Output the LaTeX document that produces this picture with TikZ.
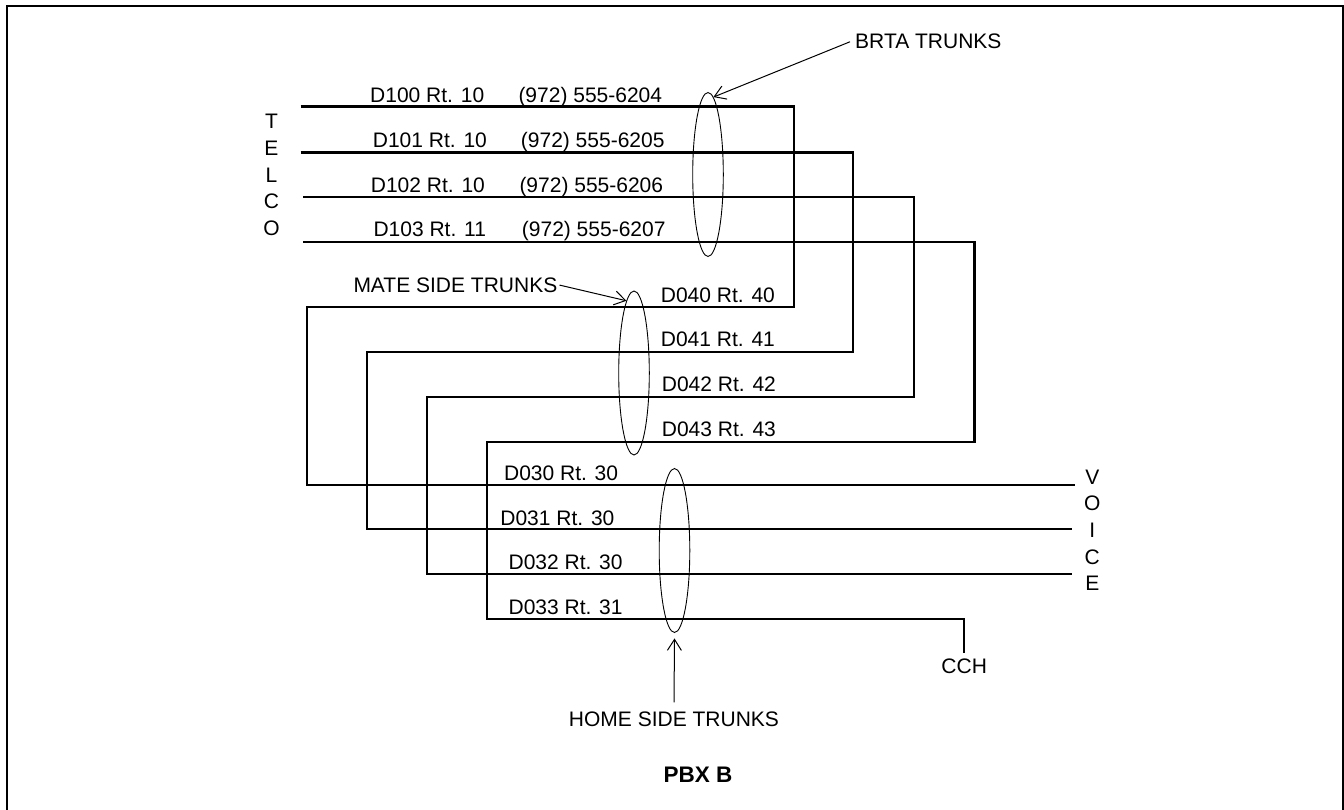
\documentclass[tikz,border=0pt]{standalone}
\usepackage{fontspec}
\setmainfont{Liberation Sans}
\usetikzlibrary{arrows.meta,shapes.geometric}
\begin{document}
\begin{tikzpicture}[x=1pt,y=-1pt,
  trunk/.style={line width=2.1pt},
  loopring/.style={draw, ellipse, line width=0.9pt, minimum width=30.6pt, minimum height=164pt, inner sep=0pt},
  lbl/.style={inner sep=0pt, anchor=base west, font=\fontsize{21}{25}\selectfont},
  ctr/.style={inner sep=0pt, font=\fontsize{21}{25}\selectfont},
  stack/.style={inner sep=0pt, align=center, font=\fontsize{21}{26.7}\selectfont},
  ptr/.style={line width=1pt, -{Straight Barb[length=11pt,width=14pt]}},
  ]
\useasboundingbox (0,0) rectangle (1344,810);
\begin{scope}
\clip (0,0) rectangle (1344,810);
\draw[line width=2pt] (6.7,5.7) rectangle (1342.8,830);
\end{scope}

% trunk end points
\coordinate (t1) at (300.7,106.5);
\coordinate (t2) at (300.7,152.5);
\coordinate (t3) at (303.3,197.3);
\coordinate (t4) at (303.3,241.7);
\coordinate (k1a) at (794,306.7);
\coordinate (k2a) at (853,352.3);
\coordinate (k3a) at (914,396.7);
\coordinate (k4a) at (974.5,441.7);
\coordinate (k1b) at (306.6,485);
\coordinate (k2b) at (367,529.3);
\coordinate (k3b) at (427,574.3);
\coordinate (k4b) at (487.3,619);
\coordinate (v1) at (1075,485);
\coordinate (v2) at (1072,529.3);
\coordinate (v3) at (1072,574.3);

% text
\node[ctr] (cch) at (964.2,666.7) {CCH};
\node[stack] (telco) at (271.5,175) {T\\E\\L\\C\\O};
\node[stack] (voice) at (1092.3,530.3) {V\\O\\I\\C\\E};

% trunks
\draw[trunk] (t1) -| (k1a) -| (k1b) -- (v1);
\draw[trunk] (t2) -| (k2a) -| (k2b) -- (v2);
\draw[trunk] (t3) -| (k3a) -| (k3b) -- (v3);
\draw[trunk] (t4) -| (k4a) -| (k4b) -| ([yshift=6pt]cch.north);

% labels
\node[lbl] (l100) at (370,103) {D100 Rt. 10};
\node[lbl] (p100) at (518.3,103) {(972) 555-6204};
\node[lbl] (l101) at (372.7,148) {D101 Rt. 10};
\node[lbl] (p101) at (520.7,148) {(972) 555-6205};
\node[lbl] (l102) at (370.7,192.7) {D102 Rt. 10};
\node[lbl] (p102) at (519.3,192.7) {(972) 555-6206};
\node[lbl] (l103) at (373.3,236.7) {D103 Rt. 11};
\node[lbl] (p103) at (521.7,236.7) {(972) 555-6207};

\node[lbl] (l040) at (660.7,302.7) {D040 Rt. 40};
\node[lbl] (l041) at (660.7,346.7) {D041 Rt. 41};
\node[lbl] (l042) at (661.7,391.7) {D042 Rt. 42};
\node[lbl] (l043) at (661.7,436.7) {D043 Rt. 43};

\node[lbl] (l030) at (503.9,480.7) {D030 Rt. 30};
\node[lbl] (l031) at (500.2,525) {D031 Rt. 30};
\node[lbl] (l032) at (508.4,569.3) {D032 Rt. 30};
\node[lbl] (l033) at (508.4,614.3) {D033 Rt. 31};

% trunk groups
\node[loopring] (ebrta) at (708,174.5) {};
\node[loopring] (emate) at (634,373) {};
\node[loopring] (ehome) at (674.5,550.5) {};

\node[lbl] (brta) at (855,49) {BRTA TRUNKS};
\node[lbl] (mate) at (353.3,292.3) {MATE SIDE TRUNKS};
\node[ctr] (home) at (674,719) {HOME SIDE TRUNKS};
\node[inner sep=0pt, font=\bfseries\fontsize{22.5}{27}\selectfont] (pbx) at (698,775) {PBX B};

\draw[ptr] ([xshift=-5pt]brta.west) -- (ebrta.86);
\draw[ptr] ([xshift=2pt]mate.east) -- (emate.96);
\draw[ptr] ([yshift=9pt]home.north) -- ([yshift=-5.5pt]ehome.south);
\end{tikzpicture}
\end{document}
